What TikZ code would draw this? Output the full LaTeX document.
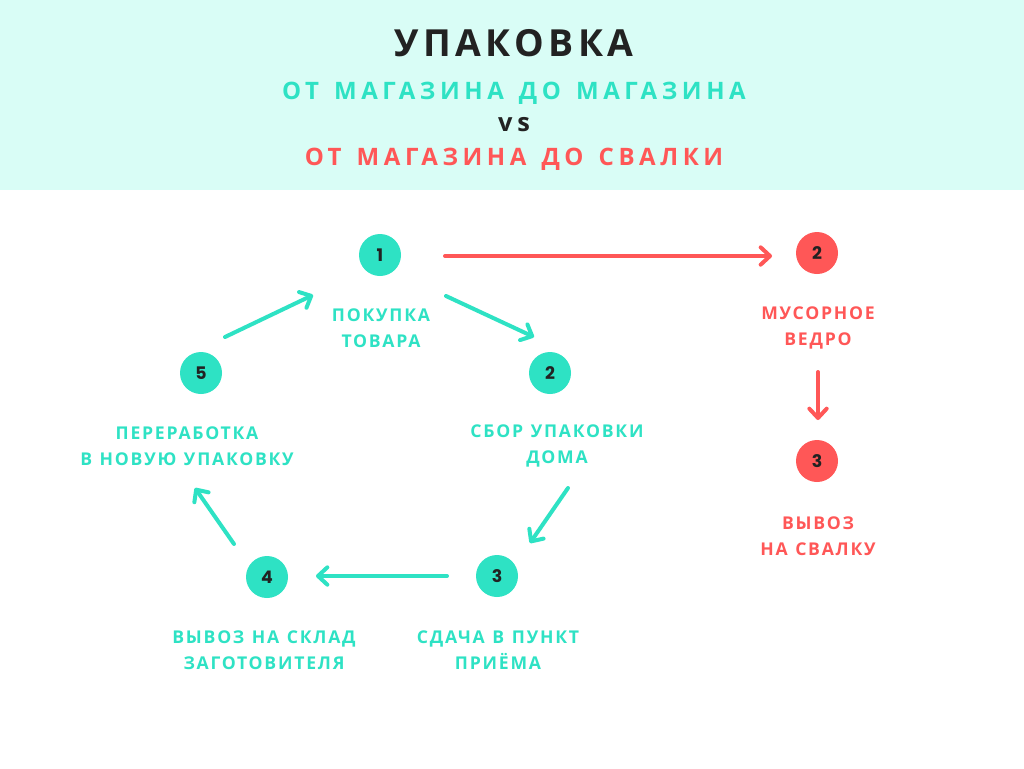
\documentclass[tikz,border=0pt]{standalone}
\usepackage{fontspec}
\setmainfont{Open Sans}
\newfontfamily\labfont[LetterSpace=10,WordSpace=1.2]{Open Sans Bold}
\newfontfamily\titfont[LetterSpace=12]{Open Sans Bold}
\newfontfamily\subfont[LetterSpace=19,WordSpace=1.4]{Open Sans Bold}
\newfontfamily\numfont{Poppins Bold}
\usetikzlibrary{arrows.meta}
\definecolor{teal1}{HTML}{2EE2C4}
\definecolor{red1}{HTML}{FF5757}
\definecolor{dark1}{HTML}{222222}
\definecolor{band}{HTML}{D9FDF6}
\tikzset{
  numc/.style={circle,minimum size=31.5pt,inner sep=0pt,font=\numfont\fontsize{13}{15}\selectfont,text=dark1},
  tnum/.style={numc,fill=teal1},
  rnum/.style={numc,fill=red1},
  lab/.style={align=center,font=\labfont\fontsize{13.2}{19.5}\selectfont,inner sep=0pt},
  tlab/.style={lab,text=teal1},
  rlab/.style={lab,text=red1},
  arr/.style={line width=3pt,line cap=round,-{Straight Barb[length=7pt,width=13pt,round,line width=3pt]}},
  tarr/.style={arr,teal1},
  rarr/.style={arr,red1},
}
\begin{document}
\begin{tikzpicture}[x=0.75pt,y=-0.75pt]
\useasboundingbox (0,0) rectangle (1024,768);
\fill[white] (0,0) rectangle (1024,768);
\fill[band] (0,0) rectangle (1024,190);
\node[font=\titfont\fontsize{28}{30}\selectfont,text=dark1] (title) at (514,43) {УПАКОВКА};
\node[font=\subfont\fontsize{18}{20}\selectfont,text=teal1] (sub1) at (514,93) {ОТ МАГАЗИНА ДО МАГАЗИНА};
\node[font=\subfont\fontsize{19}{20}\selectfont,text=dark1] (vs) at (514,125) {vs};
\node[font=\subfont\fontsize{18}{20}\selectfont,text=red1] (sub2) at (514,159) {ОТ МАГАЗИНА ДО СВАЛКИ};

\node[tnum] (n1) at (380,255) {1};
\node[tnum] (n2) at (550,373) {2};
\node[tnum] (n3) at (497,576) {3};
\node[tnum] (n4) at (267,577) {4};
\node[tnum] (n5) at (201,373) {5};
\node[rnum] (r2) at (817,253) {2};
\node[rnum] (r3) at (817,461) {3};

\node[tlab] (l1) at (381,328) {ПОКУПКА\\ТОВАРА};
\node[tlab] (l2) at (557,446) {СБОР УПАКОВКИ\\ДОМА};
\node[tlab] (l3) at (498,650) {СДАЧА В ПУНКТ\\ПРИЁМА};
\node[tlab] (l4) at (264,650) {ВЫВОЗ НА СКЛАД\\ЗАГОТОВИТЕЛЯ};
\node[tlab] (l5) at (187,446) {ПЕРЕРАБОТКА\\В НОВУЮ УПАКОВКУ};
\node[rlab] (rl2) at (818,328) {МУСОРНОЕ\\ВЕДРО};
\node[rlab] (rl3) at (818,536) {ВЫВОЗ\\НА СВАЛКУ};

\coordinate (a1s) at (445,256); \coordinate (a1e) at (772,256);
\coordinate (b1s) at (446,296); \coordinate (b1e) at (534,337);
\coordinate (b2s) at (568,488); \coordinate (b2e) at (530,543);
\coordinate (b3s) at (447,576); \coordinate (b3e) at (316,576);
\coordinate (b4s) at (234,544); \coordinate (b4e) at (195,488);
\coordinate (b5s) at (225,337); \coordinate (b5e) at (313,295);
\coordinate (c1s) at (818,372); \coordinate (c1e) at (818,420);

\draw[rarr] (a1s) -- (a1e);
\draw[tarr] (b1s) -- (b1e);
\draw[tarr] (b2s) -- (b2e);
\draw[tarr] (b3s) -- (b3e);
\draw[tarr] (b4s) -- (b4e);
\draw[tarr] (b5s) -- (b5e);
\draw[rarr] (c1s) -- (c1e);
\end{tikzpicture}
\end{document}
